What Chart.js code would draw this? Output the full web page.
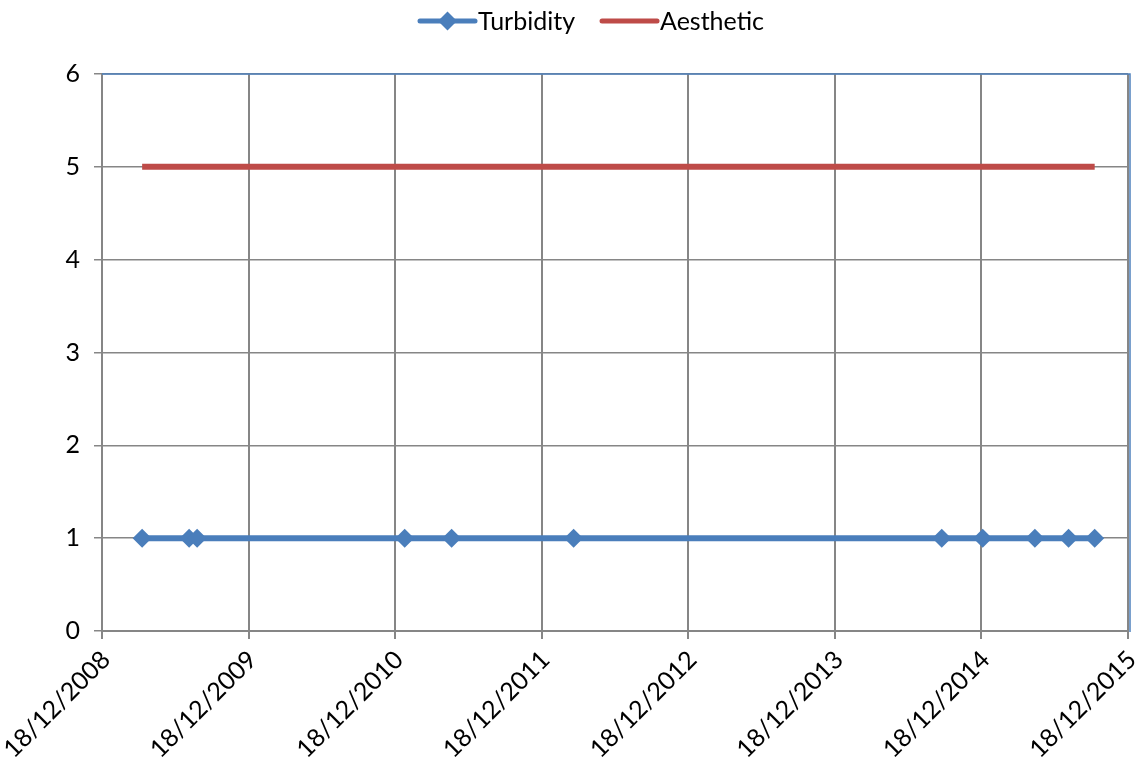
<!DOCTYPE html>
<html>
<head>
<meta charset="utf-8">
<script src="https://cdn.jsdelivr.net/npm/chart.js@4/dist/chart.umd.min.js"></script>
<style>
  html, body { margin: 0; padding: 0; background: #ffffff; }
  #wrap { width: 1141px; height: 762px; position: relative; }
</style>
</head>
<body>
<div id="wrap"><canvas id="chart"></canvas></div>
<script>
// Sampling dates and turbidity readings (NTU)
const sampleDates = [
  '2009-03-28', '2009-07-23', '2009-08-12', '2011-01-11', '2011-05-08',
  '2012-03-07', '2014-09-10', '2014-12-21', '2015-04-30', '2015-07-23',
  '2015-09-26'
];
const turbidityValues = [1, 1, 1, 1, 1, 1, 1, 1, 1, 1, 1];

// Aesthetic guideline value, spanning the sampling period
const aestheticDates = ['2009-03-28', '2015-09-26'];
const aestheticValues = [5, 5];

// Date axis tick labels
const xTickLabels = [
  '18/12/2008', '18/12/2009', '18/12/2010', '18/12/2011',
  '18/12/2012', '18/12/2013', '18/12/2014', '18/12/2015'
];
const yTicks = [0, 1, 2, 3, 4, 5, 6];

const seriesNames = ['Turbidity', 'Aesthetic'];
const seriesColors = ['#4a7ebb', '#be4b48'];

const DAY = 86400000;
const isoToDay = s => Date.parse(s + 'T00:00:00Z') / DAY;
const labelToDay = s => {
  const [d, m, y] = s.split('/').map(Number);
  return Date.UTC(y, m - 1, d) / DAY;
};
const dayToLabel = v => {
  const dt = new Date(Math.round(v) * DAY);
  const dd = String(dt.getUTCDate()).padStart(2, '0');
  const mm = String(dt.getUTCMonth() + 1).padStart(2, '0');
  return dd + '/' + mm + '/' + dt.getUTCFullYear();
};
const xTickValues = xTickLabels.map(labelToDay);

const FONT = 'Lato, "Liberation Sans", sans-serif';
const FONT_SIZE = 25;
const GRID = '#868686';
const FRAME = '#4f81bd';

// Plot-area frame (top and right edges) in blue
const framePlugin = {
  id: 'frame',
  beforeDatasetsDraw(chart) {
    const { ctx, chartArea: a } = chart;
    ctx.save();
    ctx.strokeStyle = FRAME;
    ctx.lineWidth = 1.5;
    ctx.beginPath();
    ctx.moveTo(a.left, a.top);
    ctx.lineTo(a.right + 2, a.top);
    ctx.lineTo(a.right + 2, a.bottom + 1);
    ctx.stroke();
    ctx.restore();
  }
};

// Legend row: line sample (with marker for the sampled series) followed by name
const legendPlugin = {
  id: 'lineLegend',
  afterDraw(chart) {
    const { ctx } = chart;
    const y = 21;
    const lineLen = 55, gap = 3, itemGap = 27;
    ctx.save();
    ctx.font = FONT_SIZE + 'px ' + FONT;
    ctx.textBaseline = 'middle';
    let x = 420;
    chart.data.datasets.forEach(ds => {
      ctx.strokeStyle = ds.borderColor;
      ctx.lineWidth = 5;
      ctx.lineCap = 'round';
      ctx.beginPath();
      ctx.moveTo(x, y);
      ctx.lineTo(x + lineLen, y);
      ctx.stroke();
      if (ds.pointRadius > 0) {
        const cx = x + lineLen / 2, r = ds.pointRadius;
        ctx.fillStyle = ds.borderColor;
        ctx.beginPath();
        ctx.moveTo(cx, y - r);
        ctx.lineTo(cx + r, y);
        ctx.lineTo(cx, y + r);
        ctx.lineTo(cx - r, y);
        ctx.closePath();
        ctx.fill();
      }
      ctx.fillStyle = '#000000';
      ctx.textAlign = 'left';
      ctx.fillText(ds.label, x + lineLen + gap, y + 1);
      x += lineLen + gap + ctx.measureText(ds.label).width + itemGap;
    });
    ctx.restore();
  }
};

new Chart(document.getElementById('chart'), {
  type: 'line',
  data: {
    datasets: [
      {
        label: seriesNames[0],
        data: sampleDates.map((d, i) => ({ x: isoToDay(d), y: turbidityValues[i] })),
        borderColor: seriesColors[0],
        backgroundColor: seriesColors[0],
        borderWidth: 6,
        pointStyle: 'rectRot',
        pointRadius: 9.5,
        pointHoverRadius: 9.5,
        pointBorderWidth: 0,
        tension: 0,
        order: 0
      },
      {
        label: seriesNames[1],
        data: aestheticDates.map((d, i) => ({ x: isoToDay(d), y: aestheticValues[i] })),
        borderColor: seriesColors[1],
        backgroundColor: seriesColors[1],
        borderWidth: 6,
        borderCapStyle: 'butt',
        pointRadius: 0,
        pointHoverRadius: 0,
        tension: 0,
        order: 1
      }
    ]
  },
  options: {
    responsive: true,
    maintainAspectRatio: false,
    animation: false,
    layout: { padding: { top: 74, right: 13, bottom: 0, left: 0 } },
    plugins: {
      legend: { display: false },
      tooltip: { enabled: false }
    },
    scales: {
      x: {
        type: 'linear',
        min: xTickValues[0],
        max: xTickValues[xTickValues.length - 1],
        afterBuildTicks(scale) {
          scale.ticks = xTickValues.map(v => ({ value: v }));
        },
        afterFit(scale) {
          scale.height = 131;
          scale.paddingLeft = 0;
          scale.paddingRight = 0;
        },
        ticks: {
          autoSkip: false,
          minRotation: 45,
          maxRotation: 45,
          padding: 6,
          labelOffset: 4,
          color: '#000000',
          font: { family: FONT, size: FONT_SIZE },
          callback: v => dayToLabel(v)
        },
        grid: { color: GRID, lineWidth: 2, tickLength: 8 },
        border: { color: GRID, width: 2 }
      },
      y: {
        min: 0,
        max: 6,
        afterBuildTicks(scale) {
          scale.ticks = yTicks.map(v => ({ value: v }));
        },
        afterFit(scale) { scale.width = 102; },
        ticks: {
          padding: 14,
          color: '#000000',
          font: { family: FONT, size: FONT_SIZE }
        },
        grid: { color: GRID, lineWidth: 1.5, tickLength: 8 },
        border: { color: GRID, width: 2 }
      }
    }
  },
  plugins: [framePlugin, legendPlugin]
});
</script>
</body>
</html>
